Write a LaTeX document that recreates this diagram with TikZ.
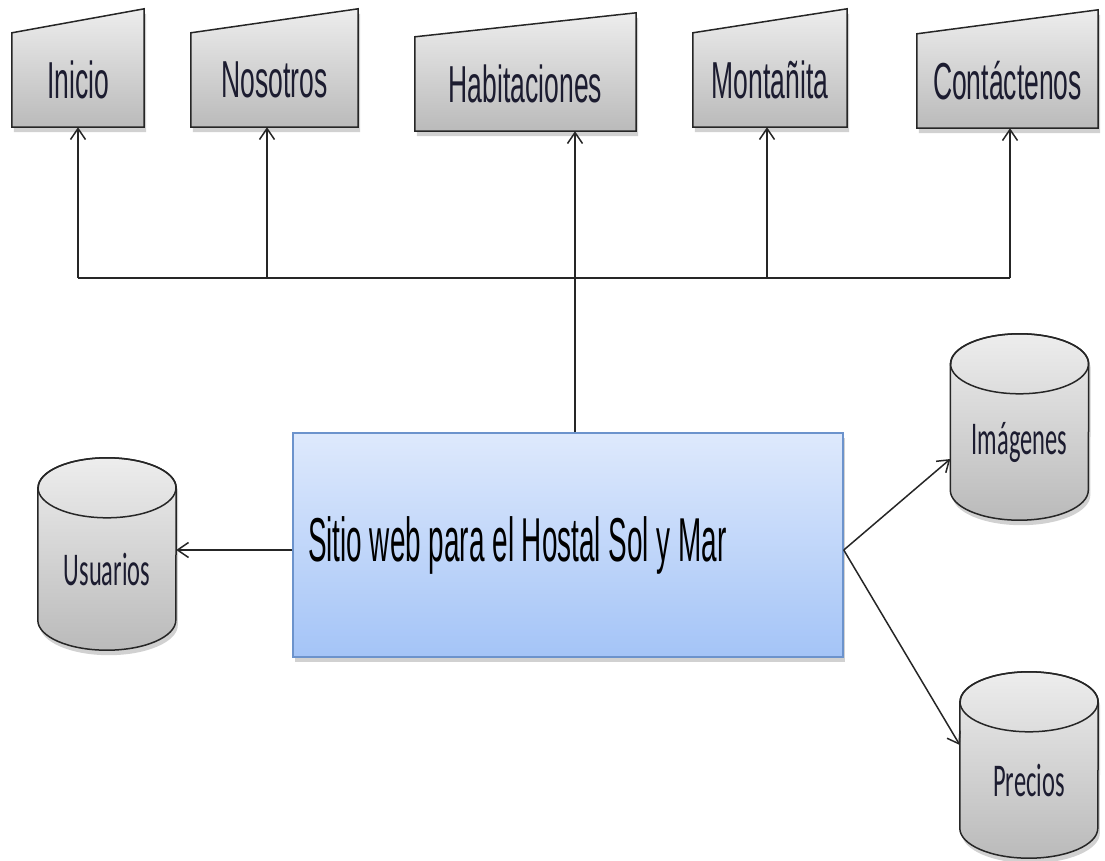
\documentclass[tikz,border=0pt]{standalone}
\usepackage{fontspec}
\setmainfont{Liberation Sans}
\newfontfamily\menufont[FakeStretch=0.51]{Liberation Sans}
\newfontfamily\webfont[FakeStretch=0.45]{Liberation Sans}
\newfontfamily\dbfont[FakeStretch=0.52]{Carlito}
\usetikzlibrary{arrows.meta,positioning,calc,shadows,backgrounds}
\definecolor{boxtop}{RGB}{222,233,252}
\definecolor{boxbot}{RGB}{164,196,247}
\definecolor{boxline}{RGB}{108,147,204}
\definecolor{inktext}{RGB}{28,28,48}

\begin{document}
\begin{tikzpicture}[x=1pt,y=1pt,>={Straight Barb[length=11pt,width=15pt]},
  line/.style={draw=black!85,line width=1.5pt},
  soft shadow/.style={drop shadow={shadow xshift=2pt,shadow yshift=-5pt,opacity=0.3,fill=black!60}},
  menu node/.style={minimum width=#1,minimum height=94pt,inner sep=0pt,font=\menufont\fontsize{52}{52}\selectfont,text=inktext},
  db node/.style={minimum width=138pt,minimum height=#1,inner sep=0pt,font=\dbfont\fontsize{47}{47}\selectfont,text=inktext},
  web node/.style={top color=boxtop,bottom color=boxbot,draw=boxline,line width=1.5pt,soft shadow,minimum height=224pt,text width=520pt,inner xsep=15pt,align=flush left,font=\webfont\fontsize{62}{62}\selectfont},
  gray fill/.style={top color=black!7,bottom color=black!27,line,soft shadow}]
\useasboundingbox (0,0) rectangle (1105,-861);

% menu
\node[menu node=132pt] (ini) at (78,-80) {Inicio};
\node[menu node=167pt] (nos) at (274.5,-80) {Nosotros};
\node[menu node=221pt] (hab) at (525.5,-84) {Habitaciones};
\node[menu node=154pt] (mon) at (770,-80) {Montañita};
\node[menu node=181pt] (con) at (1007.5,-81) {Contáctenos};

\node[web node] (web) at (568,-545) {Sitio web para el Hostal Sol y Mar};

% databases
\node[db node=162pt] (usu) at (107,-569) {Usuarios};
\node[db node=156pt] (img) at (1019.5,-442) {Imágenes};
\node[db node=156pt] (pre) at (1029,-780) {Precios};

\begin{scope}[on background layer]
\foreach \n in {ini,nos,hab,mon,con}
  \path[gray fill] (\n.south west) -- (\n.north west) -- ([yshift=24pt]\n.north east) -- (\n.south east) -- cycle;
\foreach \n in {usu,img,pre} {
  \path[gray fill] (\n.north west) -- ([yshift=30pt]\n.south west) arc[start angle=180,end angle=360,x radius=69pt,y radius=30pt]
    -- (\n.north east) arc[start angle=0,end angle=180,x radius=69pt,y radius=30pt] -- cycle;
  \draw[line] (\n.north) ellipse[x radius=69pt,y radius=30pt];
}
\end{scope}

\coordinate (b1) at (78,-278);
\coordinate (b2) at (267,-278);
\coordinate (b4) at (767,-278);
\coordinate (b5) at (1010,-278);
\draw[line] (b1) -- (b5);
\draw[line,->] (b1) -- (b1 |- ini.south);
\draw[line,->] (b2) -- (b2 |- nos.south);
\draw[line,->] (b4) -- (b4 |- mon.south);
\draw[line,->] (b5) -- (b5 |- con.south);
\draw[line,->] ([xshift=7pt]web.north) -- ([xshift=7pt]web.north |- hab.south);
\draw[line,->] ([yshift=-5pt]web.west) -- ([yshift=-5pt]web.west -| usu.east);
\draw[line,->] ([yshift=-5pt]web.east) -- ([yshift=-17pt]img.west);
\draw[line,->] ([yshift=-5pt]web.east) -- ([yshift=35pt]pre.west);
\end{tikzpicture}
\end{document}
